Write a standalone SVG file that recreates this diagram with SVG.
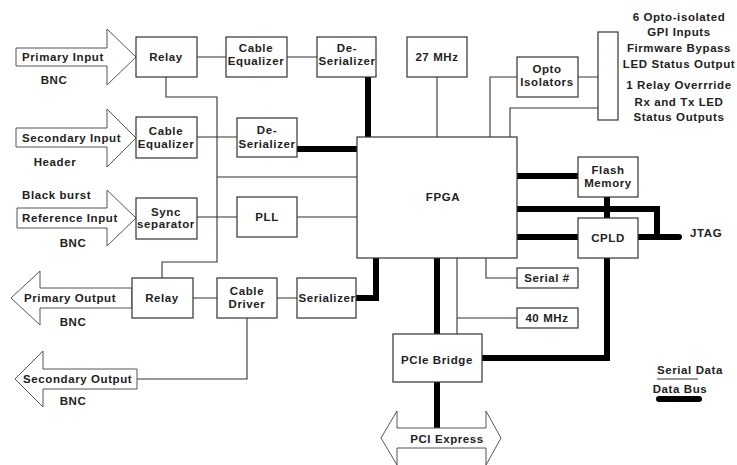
<svg xmlns="http://www.w3.org/2000/svg" width="737" height="465" viewBox="0 0 737 465">
<style>
text{font-family:"Liberation Sans",Arial,sans-serif;font-weight:bold;font-size:11.5px;letter-spacing:0.6px;fill:#222;text-anchor:middle}
text.l{text-anchor:start}
.box{fill:#fff;stroke:#333;stroke-width:1.2}
.arr{fill:#fff;stroke:#555;stroke-width:1}
.thin{fill:none;stroke:#333;stroke-width:1.1}
.bus{fill:none;stroke:#000;stroke-width:6}
</style>
<rect width="737" height="465" fill="#fff"/>
<g id="connectors">
<path class="thin" d="M197 57H226M287 57H317M166 77V97H217V262H162V278M197 137H237M217 177H357M197 217H237M297 217H357M437 77V137M490 137V77H517M510 137V108H598M578 77H598M193 298H217M277 298H297M247 318V379H137M486 258V278H517M457 258V334M457 318H517"/>
<path class="bus" d="M368 77V137M297 149H357M356 298H376V258M517 176H578M517 209H657V237M607 197V218M517 237H578M607 258V358H482M437 258V334M437 382V428"/>
<path class="bus" stroke-linecap="round" d="M638 237H679"/>
</g>
<g id="primary-input"><polygon class="arr" points="16,48 107,48 107,29 136,57 107,85 107,66 16,66"/><text class="l" x="22" y="61">Primary Input</text><text x="54" y="84">BNC</text></g>
<g id="secondary-input"><polygon class="arr" points="16,128 107,128 107,109 136,138 107,167 107,147 16,147"/><text class="l" x="22" y="142">Secondary Input</text><text x="55" y="166">Header</text></g>
<g id="reference-input"><polygon class="arr" points="17,208 107,208 107,190 136,218 107,246 107,228 17,228"/><text class="l" x="22" y="199">Black burst</text><text class="l" x="22" y="222">Reference Input</text><text x="73" y="247">BNC</text></g>
<g id="primary-output"><polygon class="arr" points="132,288 40,288 40,271 11,298 40,325 40,308 132,308"/><text class="l" x="24" y="302">Primary Output</text><text x="73" y="326">BNC</text></g>
<g id="secondary-output"><polygon class="arr" points="137,369 43,369 43,351 15,379 43,407 43,389 137,389"/><text class="l" x="23" y="383">Secondary Output</text><text x="73" y="405">BNC</text></g>
<g id="pci-express"><polygon class="arr" points="397,428 486,428 486,411 501,438 486,465 486,448 397,448 397,465 381,438 397,411"/><text x="447" y="443">PCI Express</text></g>
<g id="relay1"><rect class="box" x="136" y="37" width="61" height="40"/><text x="166" y="61">Relay</text></g>
<g id="cable-equalizer1"><rect class="box" x="226" y="37" width="61" height="40"/><text x="256" y="52">Cable</text><text x="256" y="65">Equalizer</text></g>
<g id="deserializer1"><rect class="box" x="317" y="37" width="59" height="40"/><text x="347" y="52">De-</text><text x="347" y="65">Serializer</text></g>
<g id="mhz27"><rect class="box" x="407" y="37" width="60" height="40"/><text x="437" y="61">27 MHz</text></g>
<g id="opto-isolators"><rect class="box" x="517" y="57" width="61" height="40"/><text x="547" y="73">Opto</text><text x="547" y="86">Isolators</text></g>
<g id="gpi-connector"><rect class="box" x="598" y="32" width="20" height="88"/></g>
<g id="gpi-labels"><text x="679" y="21">6 Opto-isolated</text><text x="679" y="36">GPI Inputs</text><text x="679" y="52">Firmware Bypass</text><text x="679" y="68">LED Status Output</text><text x="679" y="89">1 Relay Overrride</text><text x="679" y="106">Rx and Tx LED</text><text x="679" y="121">Status Outputs</text></g>
<g id="cable-equalizer2"><rect class="box" x="136" y="117" width="61" height="41"/><text x="166" y="135">Cable</text><text x="166" y="148">Equalizer</text></g>
<g id="deserializer2"><rect class="box" x="237" y="118" width="60" height="39"/><text x="267" y="134">De-</text><text x="267" y="148">Serializer</text></g>
<g id="sync-separator"><rect class="box" x="136" y="198" width="61" height="41"/><text x="166" y="216">Sync</text><text x="166" y="228">separator</text></g>
<g id="pll"><rect class="box" x="237" y="197" width="60" height="40"/><text x="267" y="221">PLL</text></g>
<g id="fpga"><rect class="box" x="357" y="137" width="160" height="121"/><text x="443" y="201">FPGA</text></g>
<g id="flash-memory"><rect class="box" x="578" y="157" width="60" height="40"/><text x="608" y="174">Flash</text><text x="608" y="187">Memory</text></g>
<g id="cpld"><rect class="box" x="578" y="218" width="60" height="40"/><text x="608" y="242">CPLD</text></g>
<g id="jtag"><text class="l" x="690" y="237">JTAG</text></g>
<g id="serial-number"><rect class="box" x="517" y="268" width="61" height="20"/><text x="547" y="282">Serial #</text></g>
<g id="mhz40"><rect class="box" x="517" y="308" width="61" height="20"/><text x="547" y="322">40 MHz</text></g>
<g id="relay2"><rect class="box" x="132" y="278" width="61" height="40"/><text x="162" y="302">Relay</text></g>
<g id="cable-driver"><rect class="box" x="217" y="278" width="60" height="40"/><text x="247" y="295">Cable</text><text x="247" y="308">Driver</text></g>
<g id="serializer"><rect class="box" x="297" y="278" width="59" height="40"/><text x="327" y="302">Serializer</text></g>
<g id="pcie-bridge"><rect class="box" x="393" y="334" width="89" height="48"/><text x="437" y="364">PCIe Bridge</text></g>
<g id="legend"><text x="690" y="374">Serial Data</text><line class="thin" x1="657" y1="379" x2="698" y2="379"/><text x="680" y="393">Data Bus</text><line class="bus" stroke-linecap="round" x1="659" y1="399" x2="699" y2="399"/></g>
</svg>
